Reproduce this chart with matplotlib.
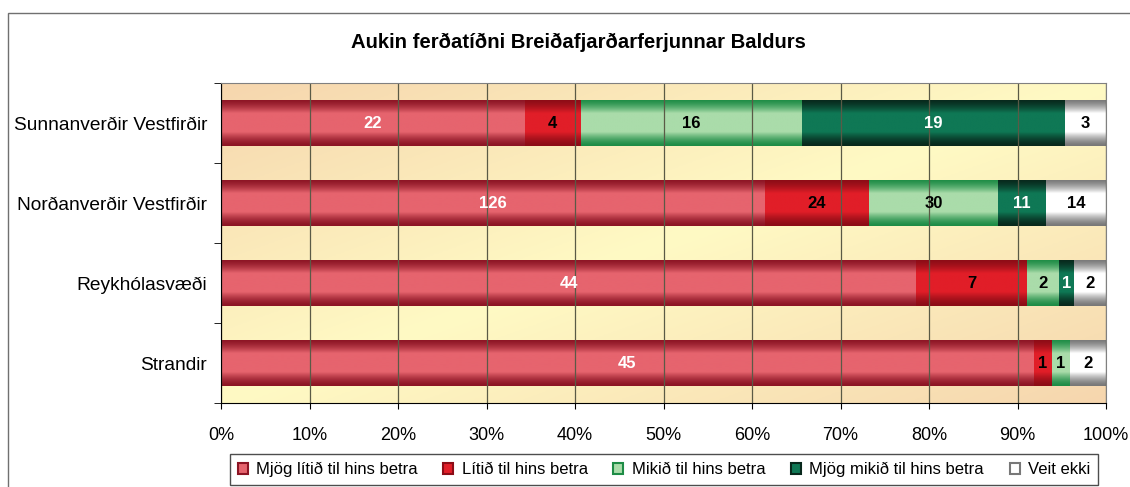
import numpy as np
import matplotlib
matplotlib.use("Agg")
import matplotlib.pyplot as plt
from matplotlib.patches import Patch, Rectangle
from matplotlib.colors import to_rgb

plt.rcParams['font.family'] = ['Liberation Sans', 'DejaVu Sans']

# data
regions = ["Sunnanverðir Vestfirðir", "Norðanverðir Vestfirðir", "Reykhólasvæði", "Strandir"]
series = ["Mjög lítið til hins betra", "Lítið til hins betra", "Mikið til hins betra",
          "Mjög mikið til hins betra", "Veit ekki"]
mjog_litid = [22, 126, 44, 45]
litid = [4, 24, 7, 1]
mikid = [16, 30, 2, 1]
mjog_mikid = [19, 11, 1, 0]
veit_ekki = [3, 14, 2, 2]

# (center colour, edge colour, label colour)
styles = [
    ("#e6646e", "#8c1424", "white"),
    ("#e11e28", "#8c0c16", "black"),
    ("#aadcaa", "#1e8c46", "black"),
    ("#0f7855", "#08281c", "white"),
    ("#ffffff", "#787878", "black"),
]

counts = np.array([mjog_litid, litid, mikid, mjog_mikid, veit_ekki], dtype=float)
shares = counts / counts.sum(axis=0)

fig = plt.figure(figsize=(11.3, 4.87), dpi=100)
fig.patches.append(Rectangle((8 / 1130, -0.2), 1.2, 1.2 - 13 / 487, transform=fig.transFigure,
                             fill=False, edgecolor="#707070", lw=1))
ax = fig.add_axes([221 / 1130, 1 - 403 / 487, 885 / 1130, 320 / 487])

# background gradient (peach <-> pale yellow, diagonal)
gx, gy = np.meshgrid(np.linspace(0, 1, 300), np.linspace(1, 0, 120))
t = np.abs(gx - gy)[..., None]
peach = np.array(to_rgb("#f6d6ae"))
yellow = np.array(to_rgb("#fffac4"))
bg = yellow * (1 - t) + peach * t
ax.imshow(bg, extent=[0, 1, 3.5, -0.5], aspect="auto", zorder=0)

y = np.arange(len(regions))
h = 0.58
left = np.zeros(len(regions))
tt = np.linspace(0, 1, 96)
prof = np.clip(np.minimum(tt, 1 - tt) / 0.3, 0, 1) ** 1.5
for i, (center, edge, tc) in enumerate(styles):
    bars = ax.barh(y, shares[i], left=left, height=h, color=center, zorder=2, lw=0)
    c = np.array(to_rgb(center))
    e = np.array(to_rgb(edge))
    grad = (e[None, :] * (1 - prof[:, None]) + c[None, :] * prof[:, None])[:, None, :]
    for b in bars:
        if b.get_width() <= 0:
            continue
        x0, y0 = b.get_x(), b.get_y()
        im = ax.imshow(grad, extent=[x0, x0 + b.get_width(), y0 + h, y0], aspect="auto",
                       zorder=2.5, interpolation="bilinear")
        im.set_clip_path(b)
    for j in range(len(regions)):
        if counts[i, j] > 0:
            ax.text(left[j] + shares[i, j] / 2, y[j], f"{int(counts[i, j])}", ha="center",
                    va="center", color=tc, fontsize=12, fontweight="bold", zorder=4)
    left += shares[i]

ax.set_xlim(0, 1)
ax.set_ylim(3.5, -0.5)
ax.set_xticks(np.arange(0, 1.01, 0.1))
ax.set_xticklabels([f"{k}%" for k in range(0, 101, 10)], fontsize=13)
ax.set_yticks(y)
ax.set_yticklabels(regions, fontsize=13.8)
ax.set_yticks([-0.5, 0.5, 1.5, 2.5, 3.5], minor=True)
ax.tick_params(axis="y", which="major", length=0, pad=10)
ax.tick_params(axis="y", which="minor", length=5, direction="out")
ax.tick_params(axis="x", length=4, direction="out", pad=13)
ax.grid(axis="x", color="#5a5a46", lw=0.9, zorder=1)
ax.set_axisbelow(False)
for s in ["top", "right"]:
    ax.spines[s].set_color("#808080")
for s in ["left", "bottom"]:
    ax.spines[s].set_color("black")
for s in ax.spines.values():
    s.set_zorder(5)

fig.text(578 / 1130, 1 - 42 / 487, "Aukin ferðatíðni Breiðafjarðarferjunnar Baldurs",
         ha="center", va="center", fontsize=14.6, fontweight="bold")

handles = [Patch(facecolor=c, edgecolor=e, lw=1.5) for c, e, _ in styles]
leg = fig.legend(handles, series, loc="upper left", ncol=5, mode="expand",
                 bbox_to_anchor=(222 / 1130, 1 - 451 / 487, 884 / 1130, 0.01),
                 fontsize=12, frameon=True, fancybox=False, handlelength=0.6,
                 handleheight=0.6, handletextpad=0.5, borderpad=0.45, columnspacing=1.0)
leg.get_frame().set_edgecolor("#202020")
leg.get_frame().set_linewidth(1)

fig.savefig("out.png", dpi=100)
